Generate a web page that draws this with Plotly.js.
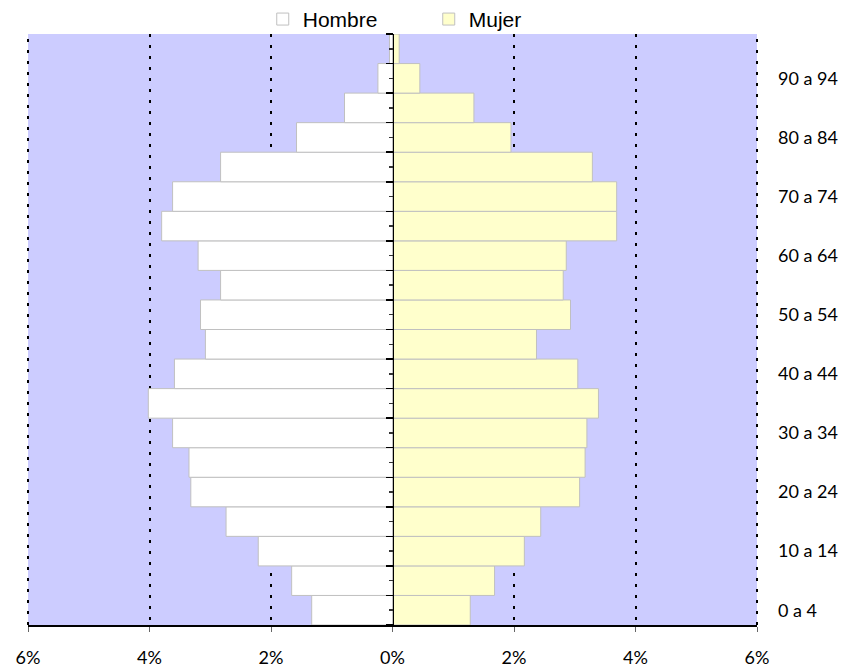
<!DOCTYPE html>
<html>
<head>
<meta charset="utf-8">
<script src="https://cdn.plot.ly/plotly-3.0.1.min.js"></script>
<style>html,body{margin:0;padding:0;background:#fff;}#chart{width:841px;height:668px;}</style>
</head>
<body>
<div id="chart"></div>
<script>
// Age groups, bottom to top
const ageGroups = ["0 a 4","5 a 9","10 a 14","15 a 19","20 a 24","25 a 29","30 a 34","35 a 39","40 a 44","45 a 49",
  "50 a 54","55 a 59","60 a 64","65 a 69","70 a 74","75 a 79","80 a 84","85 a 89","90 a 94","95 y más"];
// Percent of total population
const hombre = [1.33,1.66,2.21,2.74,3.32,3.35,3.62,4.02,3.59,3.08,3.16,2.83,3.20,3.80,3.62,2.83,1.58,0.79,0.24,0.05];
const mujer  = [1.28,1.68,2.17,2.44,3.08,3.17,3.20,3.39,3.05,2.37,2.93,2.81,2.86,3.69,3.69,3.29,1.95,1.34,0.45,0.11];
const xTickVals = [-6,-4,-2,0,2,4,6];
const xTickText = ["6%","4%","2%","0%","2%","4%","6%"];
const xRange = [-6, 6];
const yLabelCats = ageGroups.filter((_, i) => i % 2 === 0);

const barLine = {color: "rgb(192,192,192)", width: 1};
const traces = [
  {type: "bar", orientation: "h", name: "Hombre", y: ageGroups, x: hombre.map(v => -v),
   marker: {color: "#FFFFFF", line: barLine}, hoverinfo: "y+text", text: hombre.map(v => v + "%"), textposition: "none"},
  {type: "bar", orientation: "h", name: "Mujer", y: ageGroups, x: mujer,
   marker: {color: "#FFFFCC", line: barLine}, hoverinfo: "y+text", text: mujer.map(v => v + "%"), textposition: "none"},
  // helper so the centre axis (at 0%) is drawn
  {type: "scatter", mode: "markers", x: [0], y: [0], yaxis: "y2", showlegend: false,
   marker: {opacity: 0, size: 1}, hoverinfo: "skip"}
];

const gridDash = "3px,8px";
// dotted gridlines on the plot edges (Plotly omits gridlines at the range ends)
const edgeLines = [0, 1].map(v => ({type: "line", xref: "paper", yref: "paper", x0: v, x1: v, y0: 0, y1: 1,
  layer: "above", line: {color: "#000", width: 2, dash: gridDash}}));

const layout = {
  width: 841, height: 668,
  margin: {l: 28, r: 84, t: 34, b: 43, autoexpand: false},
  paper_bgcolor: "#FFFFFF",
  plot_bgcolor: "#CCCCFF",
  barmode: "relative",
  bargap: 0,
  showlegend: true,
  legend: {orientation: "h", x: 0.322, xanchor: "left", y: 0.99, yanchor: "bottom",
    font: {family: "Liberation Sans, Arial, sans-serif", size: 21, color: "#000"},
    entrywidth: 121, entrywidthmode: "pixels", traceorder: "normal",
    bgcolor: "rgba(0,0,0,0)", borderwidth: 0},
  shapes: edgeLines,
  xaxis: {range: xRange, tickvals: xTickVals, ticktext: xTickText,
    showline: true, linecolor: "#000", linewidth: 1.5,
    ticks: "outside", ticklen: 5, tickcolor: "#666", tickwidth: 1,
    ticklabelstandoff: 11,
    showgrid: true, gridcolor: "#000", gridwidth: 2, griddash: gridDash,
    zeroline: false, fixedrange: true,
    tickfont: {family: "Lato, Open Sans, sans-serif", size: 18, color: "#000"}},
  yaxis: {type: "category", categoryorder: "array", categoryarray: ageGroups,
    range: [-0.5, 19.5], side: "right",
    tickvals: yLabelCats, ticktext: yLabelCats,
    ticks: "", ticklabelstandoff: 20, showgrid: false, zeroline: false, showline: false,
    fixedrange: true,
    tickfont: {family: "Lato, Open Sans, sans-serif", size: 18, color: "#000"}},
  yaxis2: {overlaying: "y", anchor: "free", position: 0.5, side: "left",
    range: [-0.5, 19.5], tickmode: "linear", tick0: -0.5, dtick: 1,
    showline: true, linecolor: "#000", linewidth: 1.5,
    ticks: "outside", ticklen: 7, tickcolor: "#000", tickwidth: 1.5,
    minor: {ticks: "outside", tick0: 0, dtick: 1, ticklen: 4, tickcolor: "#333", tickwidth: 1.5, showgrid: false},
    showticklabels: false, showgrid: false, zeroline: false, fixedrange: true}
};

Plotly.newPlot("chart", traces, layout, {displayModeBar: false, staticPlot: true});
</script>
</body>
</html>
